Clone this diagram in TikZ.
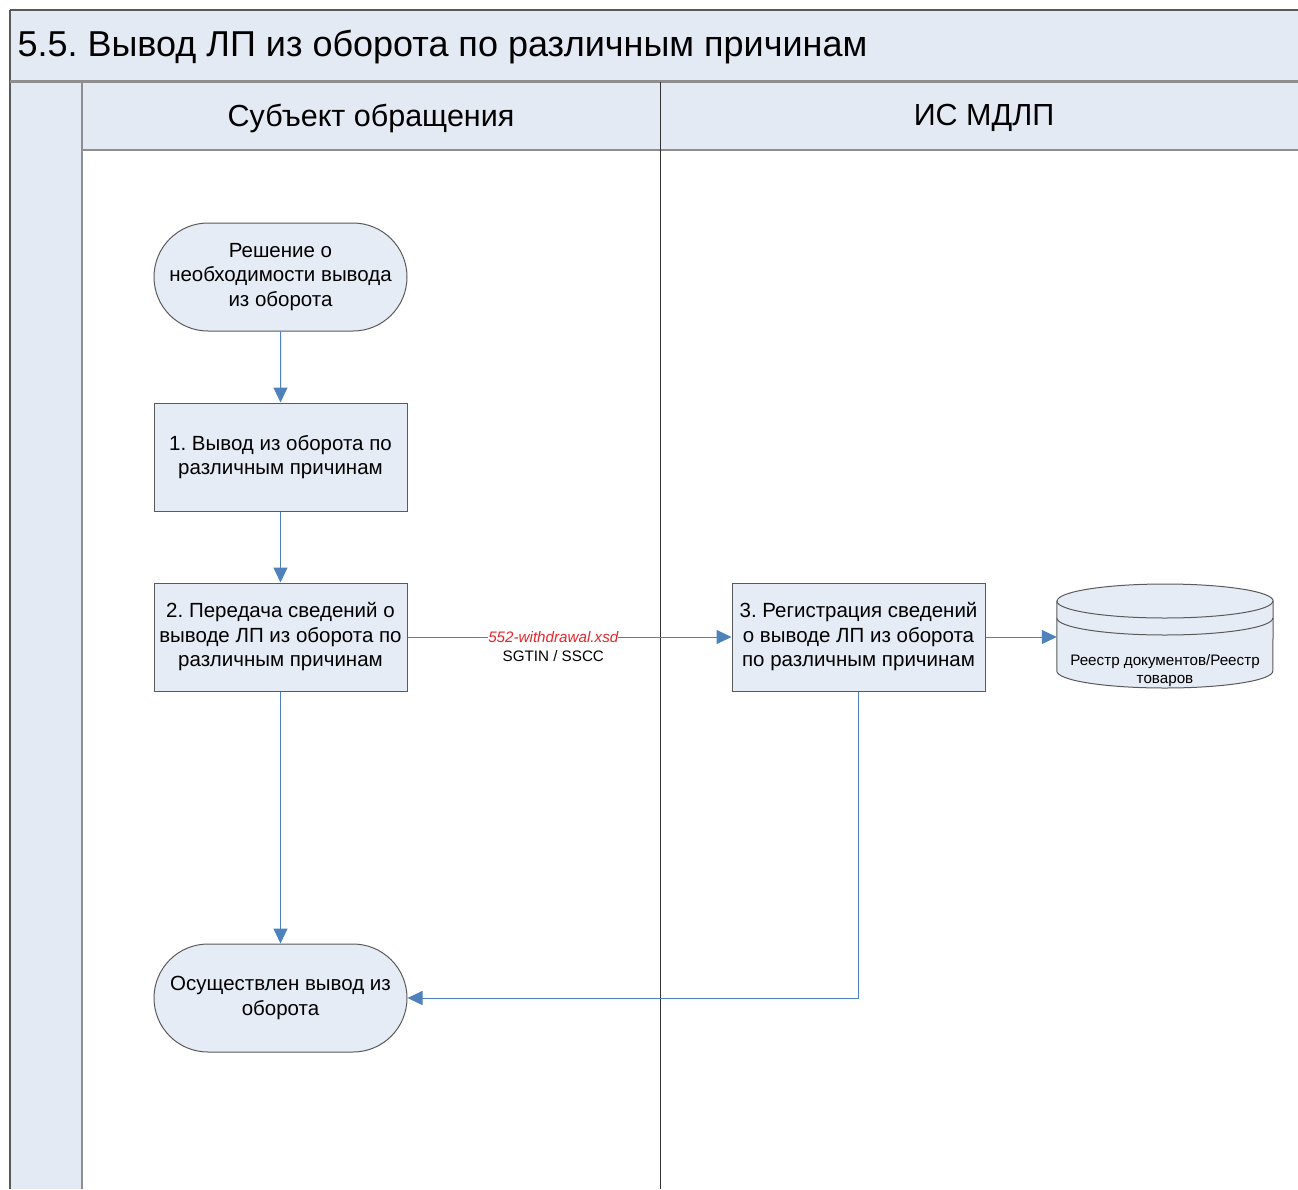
\documentclass[tikz,border=0pt]{standalone}
\usepackage{fontspec}
\setmainfont{Liberation Sans}
\usetikzlibrary{arrows.meta,positioning,calc,shapes.misc}
\definecolor{cLane}{HTML}{E4EAF4}
\definecolor{cBox} {HTML}{E6ECF6}
\definecolor{cFlow}{HTML}{4F81BD}
\definecolor{cEdge}{HTML}{5A5A5A}
\definecolor{cRule}{HTML}{8E8E8E}
\definecolor{cXsd} {HTML}{E3262B}
\tikzset{
  proc/.style  ={draw=cEdge,fill=cBox,line width=1pt,align=center,inner sep=0pt,
                 minimum width=253pt,minimum height=108pt,
                 font=\fontsize{20.5}{24.5}\selectfont},
  term/.style  ={proc,rounded rectangle},
  flow/.style  ={-{Triangle[length=15pt,width=14pt]},draw=cFlow,line width=1pt},
  lanehd/.style={font=\fontsize{30.5}{34}\selectfont},
  msg/.style   ={font=\fontsize{15.2}{18}\selectfont,inner sep=0pt,align=center},
}
\frenchspacing

\begin{document}
\begin{tikzpicture}[x=1pt, y=-1pt]
\useasboundingbox (0,0) rectangle (1298,1189);

% ===== pool and lanes ======================================================
\fill[cLane] (10,10) rectangle (1298,81);
\fill[cLane] (10,81) rectangle (82,1189);
\fill[cLane] (82,82) rectangle (1298,150);
\draw[cEdge,line width=1.5pt] (10,10) -- (1298,10);
\draw[cEdge,line width=1.5pt] (10,10) -- (10,1189);
\draw[cRule,line width=3pt] (10,81) -- (1298,81);
\draw[cRule,line width=1.5pt] (82,82) -- (82,1189);
\draw[cRule,line width=1.5pt] (82,150) -- (1298,150);
\draw[black!80,line width=1pt] (660,82) -- (660,1189);

\node[anchor=west,font=\fontsize{36}{40}\selectfont] (ttl) at (14,47)
  {5.5. Вывод ЛП из оборота по различным причинам};
\node[lanehd] (hdrSubj) at (371,118) {Субъект обращения};
\node[lanehd] (hdrMdlp) at (984,118) {ИС МДЛП};

% ===== lane 1: subject ====================================================
\node[term] (start) at (280.5,277)
  {Решение о\\необходимости вывода\\из оборота};
\node[proc] (p1) at (280.5,457)
  {1. Вывод из оборота по\\различным причинам};
\node[proc] (p2) at (280.5,637)
  {2. Передача сведений о\\выводе ЛП из оборота по\\различным причинам};
\node[term] (done) at (280.5,998)
  {Осуществлен вывод из\\оборота};

% ===== lane 2: MDLP =======================================================
\node[proc] (p3) at (858.5,637)
  {3. Регистрация сведений\\о выводе ЛП из оборота\\по различным причинам};
% register is drawn as a disk: the node only carries the anchors
\node[minimum width=216pt,minimum height=105pt,inner sep=0pt] (reg) at (1165,637) {};
\filldraw[draw=cEdge,fill=cBox,line width=1pt]
  ($(reg.west)+(0,-36)$) -- ($(reg.west)+(0,34)$)
  arc[start angle=180,end angle=360,x radius=108,y radius=-17]
  -- ($(reg.east)+(0,-36)$)
  arc[start angle=0,end angle=180,x radius=108,y radius=-17] -- cycle;
\draw[cEdge,line width=1pt] ($(reg.west)+(0,-36)$)
  arc[start angle=180,end angle=360,x radius=108,y radius=-17];
\draw[cEdge,line width=1pt] ($(reg.west)+(0,-19)$)
  arc[start angle=180,end angle=360,x radius=108,y radius=-17];
\node[msg,font=\fontsize{15.2}{18}\selectfont] (regtxt) at (1165,671)
  {Реестр документов/Реестр\\товаров};

% ===== flows ==============================================================
\draw[flow] (start) -- (p1);
\draw[flow] (p1) -- (p2);
\draw[flow] (p2) -- (p3)
  node[msg,pos=0.45,fill=white,text=cXsd,font=\fontsize{15.2}{18}\itshape] (xsd) {552-withdrawal.xsd};
\node[msg,below=7pt of xsd] (ids) {SGTIN / SSCC};
\draw[flow] (p3) -- (reg.west);
\draw[flow] (p2) -- (done);
\draw[flow] (p3.south) |- (done.east);
\end{tikzpicture}
\end{document}
